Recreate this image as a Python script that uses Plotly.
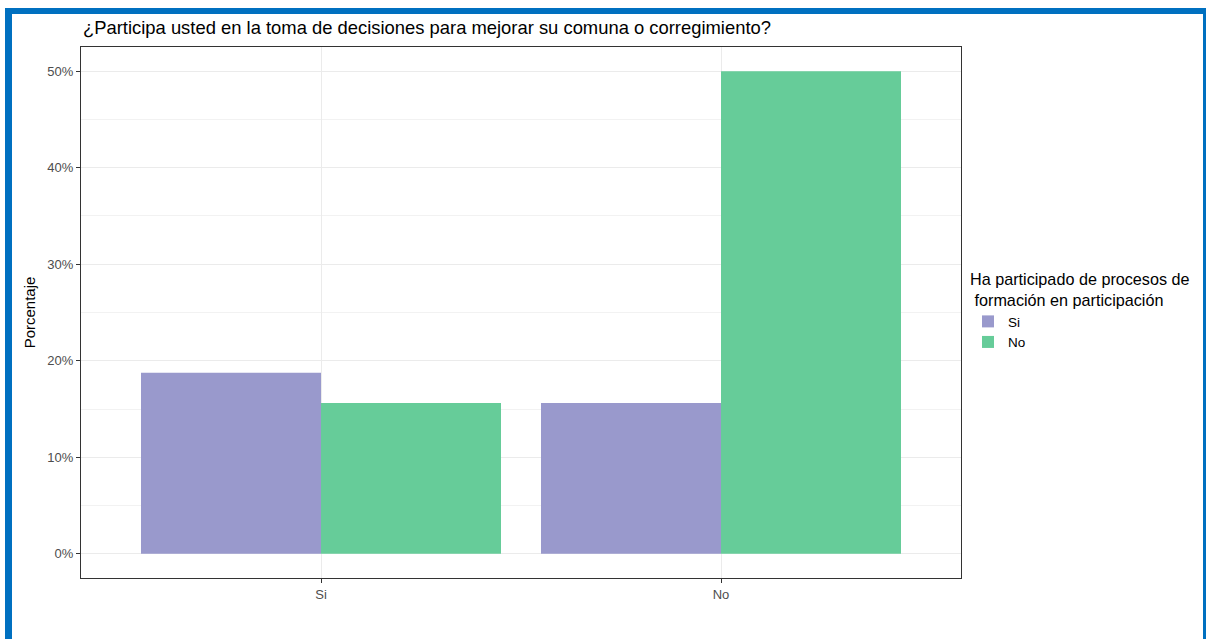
import plotly.graph_objects as go

# Datos
categorias = ["Si", "No"]
grupos = ["Si", "No"]
porcentaje_si = [18.75, 15.625]   # Ha participado: Si
porcentaje_no = [15.625, 50.0]    # Ha participado: No
colores = {"Si": "#9999CC", "No": "#66CC99"}

fuente = "Liberation Sans, Arial, sans-serif"

fig = go.Figure()
for grupo, valores in zip(grupos, [porcentaje_si, porcentaje_no]):
    fig.add_trace(go.Bar(
        x=categorias, y=valores, name=grupo,
        marker=dict(color=colores[grupo], line=dict(width=0)),
        hovertemplate="%{x}: %{y:.1f}%<extra>" + grupo + "</extra>",
    ))

# se quita el margen del body (post_script), asi px de figura = px de pagina
W, H = 1206, 639
L, T = 81, 47
R = W - 961
B = H - 578
pw, ph = W - L - R, H - T - B

def px_x(p):
    return (p - L) / pw

def px_y(p):
    return (H - B - p) / ph

azul = "#0070C0"
marcos = [
    (5, 8, 1206, 14),     # arriba
    (5, 8, 12, 660),      # izquierda
    (1203, 8, 1206, 660), # derecha
]
shapes = []
for x0, y0, x1, y1 in marcos:
    shapes.append(dict(type="rect", xref="paper", yref="paper",
                       x0=px_x(x0), x1=px_x(x1), y0=px_y(y1), y1=px_y(y0),
                       fillcolor=azul, line=dict(width=0), layer="above"))

fig.update_layout(
    template="none",
    width=W, height=H,
    margin=dict(l=L, r=R, t=T, b=B),
    paper_bgcolor="white", plot_bgcolor="white",
    barmode="group", bargap=0.1, bargroupgap=0,
    font=dict(family=fuente, color="#4D4D4D"),
    title=dict(
        text="¿Participa usted en la toma de decisiones para mejorar su comuna o corregimiento?",
        x=px_x(83), xanchor="left", xref="paper",
        y=1 - 28 / H, yanchor="middle",
        font=dict(size=18.4, color="black", family=fuente),
    ),
    xaxis=dict(
        type="category", range=[-0.6, 1.6],
        showgrid=True, gridcolor="#EBEBEB", gridwidth=1,
        showline=True, linecolor="#333333", linewidth=1, mirror=True,
        ticks="outside", ticklen=4, tickcolor="#333333",
        tickfont=dict(size=13, color="#4D4D4D"),
        zeroline=False,
    ),
    yaxis=dict(
        range=[-2.5, 52.5], dtick=10, tick0=0, ticksuffix="%",
        showgrid=True, gridcolor="#EBEBEB", gridwidth=1,
        minor=dict(dtick=5, tick0=0, showgrid=True, gridcolor="#F2F2F2", gridwidth=1),
        showline=True, linecolor="#333333", linewidth=1, mirror=True,
        ticks="outside", ticklen=4, tickcolor="#333333",
        tickfont=dict(size=13, color="#4D4D4D"),
        zeroline=False,
        title=dict(text="Porcentaje", font=dict(size=15, color="black"), standoff=8),
    ),
    legend=dict(
        title=dict(text="Ha participado de procesos de<br> formación en participación",
                   font=dict(size=16.2, color="black")),
        x=px_x(968), xanchor="left", y=px_y(264), yanchor="top",
        font=dict(size=13.5, color="black"),
        itemsizing="constant", tracegroupgap=0,
        bgcolor="rgba(0,0,0,0)",
    ),
    shapes=shapes,
)

fig.write_html("out.html", config={"displayModeBar": False},
               post_script="document.body.style.margin = '0px';")
